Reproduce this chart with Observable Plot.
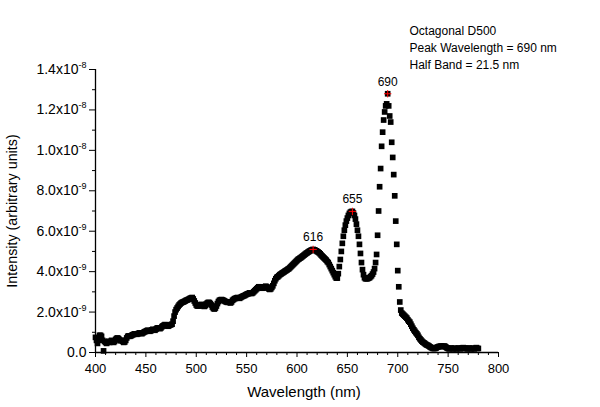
<!DOCTYPE html>
<html><head><meta charset="utf-8">
<script src="https://cdn.jsdelivr.net/npm/d3@7"></script>
<script src="https://cdn.jsdelivr.net/npm/@observablehq/plot@0.6"></script>
<style>body{margin:0;background:#fff}</style>
</head><body><div id="chart"></div>
<script>
// Emission spectrum, sampled every 1 nm from 400 nm; intensity in units of 1e-9
const wavelengthStart = 400;
const wavelengthStep = 1;
const intensity = [
  0.75, 0.6, 0.45, 0.7, 0.85, 0.85, 0.8, 0.6, 0.08, 0.55,
  0.5, 0.45, 0.5, 0.55, 0.5, 0.55, 0.6, 0.55, 0.5, 0.55,
  0.65, 0.7, 0.72, 0.68, 0.62, 0.58, 0.6, 0.55, 0.5, 0.52,
  0.6, 0.72, 0.8, 0.82, 0.8, 0.82, 0.85, 0.88, 0.9, 0.92,
  0.92, 0.9, 0.93, 0.95, 0.97, 0.95, 0.93, 0.97, 1.0, 1.03,
  1.05, 1.08, 1.1, 1.08, 1.05, 1.08, 1.12, 1.15, 1.12, 1.1,
  1.15, 1.2, 1.22, 1.2, 1.18, 1.22, 1.28, 1.32, 1.35, 1.38,
  1.36, 1.32, 1.3, 1.33, 1.36, 1.38, 1.4, 1.55, 1.8, 2.0,
  2.12, 2.2, 2.28, 2.35, 2.4, 2.45, 2.48, 2.5, 2.52, 2.55,
  2.58, 2.6, 2.62, 2.65, 2.68, 2.7, 2.72, 2.65, 2.55, 2.45,
  2.35, 2.3, 2.3, 2.32, 2.35, 2.38, 2.35, 2.3, 2.28, 2.32,
  2.4, 2.45, 2.48, 2.47, 2.42, 2.35, 2.25, 2.18, 2.15, 2.2,
  2.3, 2.42, 2.52, 2.58, 2.6, 2.62, 2.6, 2.58, 2.55, 2.52,
  2.5, 2.48, 2.5, 2.48, 2.45, 2.5, 2.58, 2.62, 2.66, 2.68,
  2.7, 2.72, 2.7, 2.68, 2.72, 2.75, 2.78, 2.8, 2.82, 2.85,
  2.88, 2.9, 2.92, 2.95, 2.93, 2.92, 2.95, 3.0, 3.05, 3.1,
  3.15, 3.2, 3.25, 3.25, 3.22, 3.2, 3.18, 3.2, 3.25, 3.28,
  3.25, 3.2, 3.15, 3.12, 3.15, 3.22, 3.3, 3.42, 3.55, 3.65,
  3.72, 3.75, 3.8, 3.85, 3.88, 3.92, 3.95, 3.98, 4.02, 4.05,
  4.08, 4.12, 4.15, 4.2, 4.25, 4.3, 4.35, 4.4, 4.45, 4.5,
  4.55, 4.6, 4.63, 4.67, 4.7, 4.74, 4.78, 4.82, 4.86, 4.9,
  4.93, 4.97, 5.0, 5.03, 5.06, 5.08, 5.1, 5.08, 5.06, 5.03,
  5.0, 4.97, 4.93, 4.88, 4.82, 4.77, 4.72, 4.67, 4.62, 4.57,
  4.5, 4.45, 4.35, 4.25, 4.15, 4.05, 3.95, 3.85, 3.75, 3.68,
  3.68, 3.9, 4.25, 4.6, 5.0, 5.4, 5.75, 6.05, 6.3, 6.5,
  6.65, 6.78, 6.88, 6.94, 6.97, 6.98, 6.9, 6.78, 6.6, 6.35,
  6.05, 5.75, 5.35, 4.9, 4.45, 4.1, 3.85, 3.7, 3.65, 3.65,
  3.65, 3.68, 3.7, 3.75, 3.8, 3.88, 3.98, 4.15, 4.45, 4.85,
  5.8, 7.0, 8.2, 9.1, 10.2, 10.9, 11.5, 11.9, 12.2, 12.3,
  12.8, 12.2, 11.7, 11.4, 10.4, 9.65, 8.8, 7.75, 6.5, 5.35,
  4.05, 3.25, 2.5, 2.1, 1.95, 1.9, 1.85, 1.8, 1.75, 1.7,
  1.62, 1.55, 1.5, 1.4, 1.3, 1.2, 1.12, 1.05, 0.98, 0.92,
  0.85, 0.75, 0.68, 0.62, 0.56, 0.51, 0.48, 0.44, 0.4, 0.37,
  0.35, 0.32, 0.28, 0.25, 0.23, 0.2, 0.2, 0.2, 0.22, 0.26,
  0.28, 0.3, 0.3, 0.32, 0.3, 0.3, 0.32, 0.3, 0.26, 0.22,
  0.2, 0.18, 0.2, 0.22, 0.2, 0.18, 0.2, 0.2, 0.18, 0.2,
  0.22, 0.2, 0.18, 0.2, 0.22, 0.24, 0.22, 0.2, 0.2, 0.18,
  0.2, 0.22, 0.2, 0.18, 0.2, 0.2, 0.18, 0.22, 0.24, 0.2,
  0.2
];
const peakWavelengths = [616, 655, 690];
const peakLabels = ["616", "655", "690"];

const xTicks = [400, 450, 500, 550, 600, 650, 700, 750, 800];
const xTickLabels = ["400", "450", "500", "550", "600", "650", "700", "750", "800"];
const xMinorTicks = [410,420,430,440,460,470,480,490,510,520,530,540,560,570,580,590,610,620,630,640,660,670,680,690,710,720,730,740,760,770,780,790];
const yTicks = [0, 2, 4, 6, 8, 10, 12, 14];
const yTickLabels = ["0.0", "2.0x10^-9", "4.0x10^-9", "6.0x10^-9", "8.0x10^-9", "1.0x10^-8", "1.2x10^-8", "1.4x10^-8"];
const yMinorTicks = [1, 3, 5, 7, 9, 11, 13];
const xLabel = "Wavelength (nm)";
const yLabel = "Intensity (arbitrary units)";
const noteLines = ["Octagonal D500", "Peak Wavelength = 690 nm", "Half Band = 21.5 nm"];

const data = intensity.map((v, i) => ({nm: wavelengthStart + i * wavelengthStep, v}));
const peaks = peakWavelengths.map((nm, i) => ({nm, v: data.find(d => d.nm === nm).v, label: peakLabels[i]}));

const font = "'Liberation Sans', Arial, sans-serif";
const plot = Plot.plot({
  width: 600, height: 407,
  marginLeft: 95, marginRight: 102, marginTop: 69, marginBottom: 55,
  x: {domain: [400, 800]},
  y: {domain: [0, 14]},
  style: {fontFamily: font, fontSize: "13px", color: "black", background: "white", overflow: "visible"},
  marks: [
    Plot.axisX({ticks: xMinorTicks, tickSize: 3, tickFormat: () => "", label: null}),
    Plot.axisX({ticks: xTicks, tickSize: 5, tickPadding: 6, tickFormat: d => xTickLabels[xTicks.indexOf(d)], label: null, fontSize: 13}),
    Plot.axisY({ticks: yMinorTicks, tickSize: 3, tickFormat: () => "", label: null}),
    Plot.axisY({ticks: yTicks, tickSize: 6, tickPadding: 3, tickFormat: d => yTickLabels[yTicks.indexOf(d)], label: null, fontSize: 14}),
    Plot.ruleY([0], {strokeWidth: 1.3}),
    Plot.ruleX([400], {strokeWidth: 1.3}),
    Plot.dot(data, {x: "nm", y: "v", symbol: "square", r: 3.2, fill: "black"}),
    Plot.dot(peaks, {x: "nm", y: "v", symbol: "plus", stroke: "red", r: 2.5, strokeWidth: 1}),
    Plot.text(peaks, {x: "nm", y: "v", text: "label", dy: -12, fontSize: 12, lineAnchor: "middle"}),
    Plot.text([noteLines.join("\n")], {frameAnchor: "top-left", dx: 314, dy: -46, textAnchor: "start", lineAnchor: "top", lineHeight: 1.4, fontSize: 12}),
    Plot.text([xLabel], {frameAnchor: "bottom", dx: 7, dy: 40, textAnchor: "middle", lineAnchor: "middle", fontSize: 15}),
    Plot.text([yLabel], {frameAnchor: "left", dx: -83, rotate: -90, textAnchor: "middle", lineAnchor: "middle", fontSize: 14.3})
  ]
});

// superscript exponents in y tick labels
plot.querySelectorAll('g[aria-label="y-axis tick label"] text').forEach(t => {
  const s = t.textContent;
  if (!s.includes("^")) return;
  const [base, exp] = s.split("^");
  t.textContent = "";
  const ns = "http://www.w3.org/2000/svg";
  const a = document.createElementNS(ns, "tspan");
  a.textContent = base;
  const b = document.createElementNS(ns, "tspan");
  b.textContent = exp;
  b.setAttribute("dy", "-6");
  b.setAttribute("font-size", "9");
  t.appendChild(a); t.appendChild(b);
});

document.getElementById("chart").appendChild(plot);
</script>
</body></html>
